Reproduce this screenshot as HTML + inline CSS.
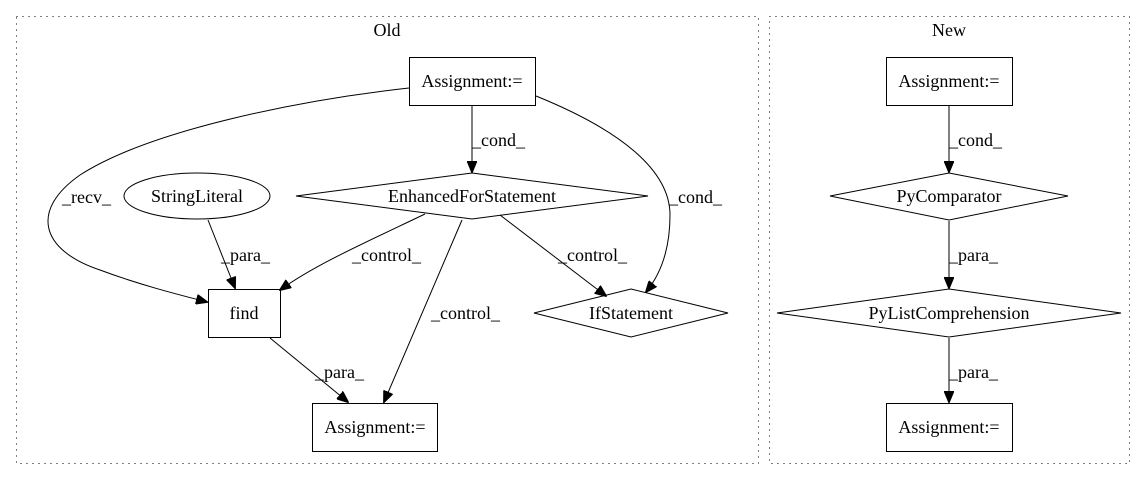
<!DOCTYPE html>
<html><head><meta charset="utf-8"><style>
html,body{margin:0;padding:0;background:#fff;}
svg text{font-family:"Liberation Serif",serif;font-size:18px;fill:#000;}
</style></head><body>
<svg width="1145" height="480" viewBox="0 0 1145 480" xmlns="http://www.w3.org/2000/svg">
<defs><marker id="ah" markerWidth="12" markerHeight="10" refX="11" refY="5" orient="auto" markerUnits="userSpaceOnUse"><polygon points="0,0 12,5 0,10" fill="#000" stroke="#000"/></marker></defs>
<g fill="none" stroke="#000" stroke-width="1">
<rect x="16.5" y="16.5" width="742" height="447" stroke-dasharray="1,5"/>
<rect x="769.5" y="16.5" width="360" height="447" stroke-dasharray="1,5"/>
</g>
<text x="387" y="36" text-anchor="middle">Old</text>
<text x="949" y="36" text-anchor="middle">New</text>
<g fill="#fff" stroke="#000">
<rect x="409.5" y="57.5" width="126" height="48"/>
<polygon points="472,173 648,196 472,219 296,196"/>
<ellipse cx="197" cy="196" rx="73" ry="23"/>
<rect x="208.5" y="289.5" width="72" height="48"/>
<polygon points="631,289 728,313 631,337 534,313"/>
<rect x="312.5" y="403.5" width="125" height="48"/>
<rect x="886.5" y="57.5" width="126" height="48"/>
<polygon points="949,173 1068,196 949,220 830,196"/>
<polygon points="949,289 1121,313 949,337 777,313"/>
<rect x="886.5" y="403.5" width="126" height="48"/>
</g>
<g text-anchor="middle">
<text x="472" y="87">Assignment:=</text>
<text x="472" y="202">EnhancedForStatement</text>
<text x="197" y="202">StringLiteral</text>
<text x="244" y="319">find</text>
<text x="631" y="319">IfStatement</text>
<text x="375" y="433">Assignment:=</text>
<text x="949" y="87">Assignment:=</text>
<text x="949" y="202">PyComparator</text>
<text x="949" y="319">PyListComprehension</text>
<text x="949" y="433">Assignment:=</text>
</g>
<g fill="none" stroke="#000" marker-end="url(#ah)">
<path d="M472,106 L472,172"/>
<path d="M409,88 C300,100 150,130 80,175 C30,210 40,250 100,270 C140,285 180,295 207,302"/>
<path d="M536,96 C620,130 670,170 670,215 C670,250 660,275 646,292"/>
<path d="M208,220 L235,288"/>
<path d="M425,214 C360,245 315,265 280,290"/>
<path d="M462,220 L384,402"/>
<path d="M500,215 L606,296"/>
<path d="M270,338 L348,402"/>
<path d="M949,106 L949,172"/>
<path d="M949,221 L949,288"/>
<path d="M949,338 L949,402"/>
</g>
<g>
<text x="472" y="146">_cond_</text>
<text x="62" y="203">_recv_</text>
<text x="669" y="203">_cond_</text>
<text x="221" y="261">_para_</text>
<text x="352" y="261">_control_</text>
<text x="558" y="261">_control_</text>
<text x="431" y="319">_control_</text>
<text x="315" y="378">_para_</text>
<text x="949" y="146">_cond_</text>
<text x="949" y="261">_para_</text>
<text x="949" y="378">_para_</text>
</g>
</svg>
</body></html>
